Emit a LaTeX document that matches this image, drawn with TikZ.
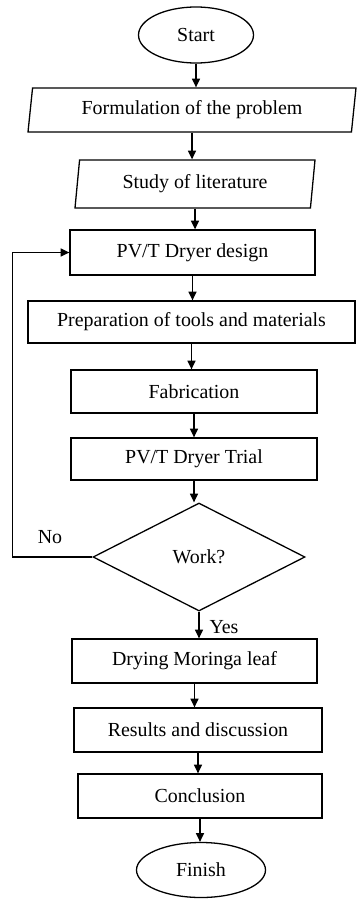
\documentclass[tikz,border=0pt]{standalone}
\usepackage{fontspec}
\setmainfont{Liberation Serif}
\usetikzlibrary{shapes.geometric, arrows.meta, positioning}
\newlength\pxu
\setlength\pxu{0.03cm}
\tikzset{
	boxnode/.style={
			rectangle,
			draw=black,
			line width=1.1pt,
			fill=white,
			inner sep=0pt,
			font=\fontsize{17}{20}\selectfont
		},
	slantnode/.style={
			boxnode,
			trapezium,
			trapezium left angle=76,
			trapezium right angle=104,
			trapezium stretches body
		},
	termnode/.style={
			boxnode,
			ellipse
		},
	decisionnode/.style={
			boxnode,
			diamond
		},
	labelnode/.style={
			inner sep=0pt,
			font=\fontsize{17}{20}\selectfont
		},
	arrline/.style={
			line width=1.1pt,
			-{Triangle[length=0.26cm, width=0.24cm]}
		}
}
\begin{document}
\begin{tikzpicture}[x=0.03cm, y=-0.03cm]
\useasboundingbox (0,0) rectangle (357,899);
\node[termnode, minimum width=115\pxu, minimum height=56\pxu] (start) at (196,35) {Start};
\node[slantnode, minimum width=328\pxu, minimum height=44\pxu] (problem) at (192,110) {Formulation of the problem};
\node[slantnode, minimum width=240\pxu, minimum height=48\pxu] (study) at (195,184) {Study of literature};
\node[boxnode, minimum width=245\pxu, minimum height=45\pxu] (design) at (192.5,252.5) {PV/T Dryer design};
\node[boxnode, minimum width=327\pxu, minimum height=42\pxu] (prep) at (191.5,322) {Preparation of tools and materials};
\node[boxnode, minimum width=246\pxu, minimum height=43\pxu] (fab) at (194,391.5) {Fabrication};
\node[boxnode, minimum width=246\pxu, minimum height=42\pxu] (trial) at (194,459) {PV/T Dryer Trial};
\node[decisionnode, minimum width=212\pxu, minimum height=108\pxu] (work) at (199,557) {Work?};
\node[boxnode, minimum width=245\pxu, minimum height=44\pxu] (drying) at (194.5,661) {Drying Moringa leaf};
\node[boxnode, minimum width=248\pxu, minimum height=44\pxu] (results) at (198,730) {Results and discussion};
\node[boxnode, minimum width=244\pxu, minimum height=44\pxu] (concl) at (200,796) {Conclusion};
\node[termnode, minimum width=129\pxu, minimum height=55\pxu] (finish) at (201,870) {Finish};

\node[labelnode] (nolabel) at (50,537) {No};
\node[labelnode] (yeslabel) at (224,627) {Yes};

\draw[arrline] (start.south) -- (start.south |- problem.north);
\draw[arrline] (problem.south) -- (problem.south |- study.north);
\draw[arrline] (study.south) -- (study.south |- design.north);
\draw[arrline] (design.south) -- (design.south |- prep.north);
\draw[arrline] (prep.south) -- (prep.south |- fab.north);
\draw[arrline] (fab.south) -- (fab.south |- trial.north);
\draw[arrline] (trial.south) -- (trial.south |- work.north);
\draw[arrline] (work.south) -- (work.south |- drying.north);
\draw[arrline] (drying.south) -- (drying.south |- results.north);
\draw[arrline] (results.south) -- (results.south |- concl.north);
\draw[arrline] (concl.south) -- (concl.south |- finish.north);

\draw[arrline] (work.west) -- ++(-80,0) |- (design.west);
\end{tikzpicture}
\end{document}
